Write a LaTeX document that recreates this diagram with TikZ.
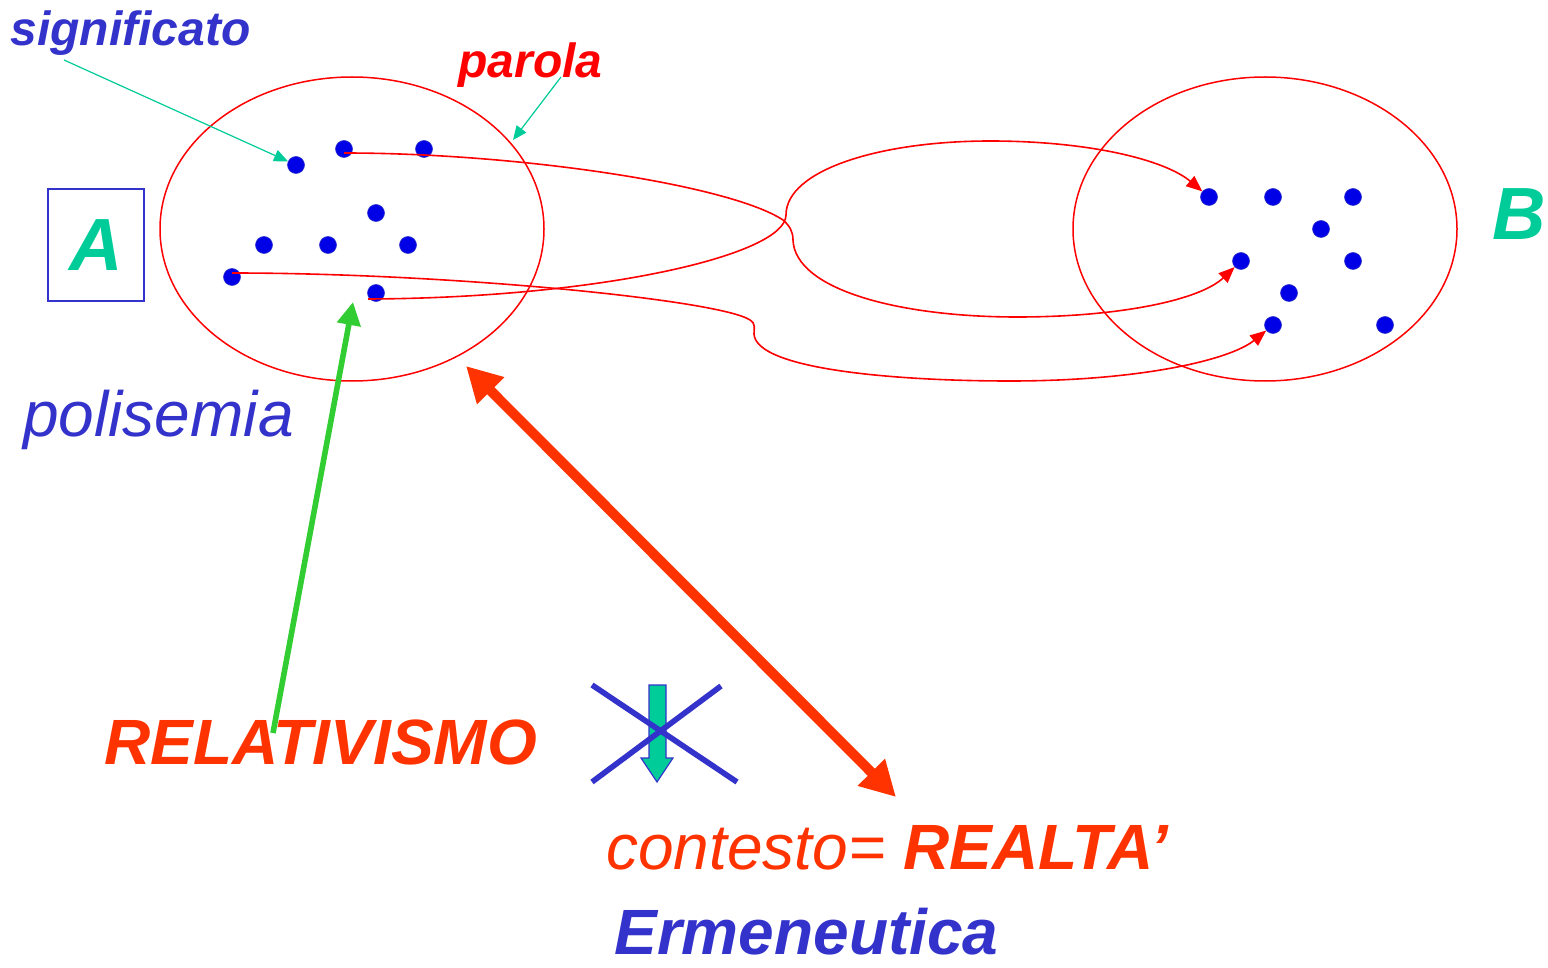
\documentclass[tikz,border=0pt]{standalone}
\usepackage{fontspec}
\setmainfont{Liberation Sans}
\usetikzlibrary{arrows.meta,shapes.geometric}
\definecolor{setred}{RGB}{255,0,0}
\definecolor{inkblue}{RGB}{51,51,204}
\definecolor{dotblue}{RGB}{0,0,230}
\definecolor{sea}{RGB}{0,204,153}
\definecolor{flame}{RGB}{255,51,0}
\definecolor{grass}{RGB}{50,205,50}

\begin{document}
\begin{tikzpicture}[x=0.5pt, y=-0.5pt,
	elem/.style={circle, fill=dotblue, draw=inkblue, line width=0.3pt, inner sep=0pt, minimum size=8.5pt},
	oval/.style={ellipse, draw=setred, line width=0.75pt, inner sep=0pt, minimum width=192pt, minimum height=152pt},
	wire/.style={setred, line width=0.8pt, -{Triangle[length=8pt,width=6.5pt]}},
	hint/.style={sea, line width=0.6pt, -{Triangle[length=7pt,width=6pt]}},
	word/.style={inner sep=0pt, anchor=base west},
	bigit/.style={font=\fontsize{32}{38}\selectfont\itshape},
	bigbf/.style={font=\fontsize{32}{38}\selectfont\bfseries\itshape},
	small/.style={font=\fontsize{24}{28}\selectfont\bfseries\itshape},
	letter/.style={font=\fontsize{37}{44}\selectfont\bfseries\itshape, text=sea},
]
	\useasboundingbox (0,0) rectangle (1548,968);

	% the two sets
	\node[oval] (setA) at (352,229) {};
	\node[oval] (setB) at (1265,229) {};
	\node[letter, draw=inkblue, line width=0.6pt, minimum width=48pt, minimum height=56pt, inner sep=0pt] (A) at (96,245) {A};
	\node[letter, inner sep=0pt] (B) at (1519,214) {B};

	\foreach \n/\x/\y in {1/296/165, 2/344/149, 3/424/149, 4/376/213, 5/264/245, 6/328/245, 7/408/245, 8/232/277, 9/376/293}
		\node[elem] (a\n) at (\x,\y) {};
	\foreach \n/\x/\y in {1/1209/197, 2/1273/197, 3/1353/197, 4/1321/229, 5/1241/261, 6/1353/261, 7/1289/293, 8/1273/325, 9/1385/325}
		\node[elem] (b\n) at (\x,\y) {};

	% words
	\node[word, small, text=inkblue] (signif) at (10,46) {significato};
	\node[word, small, text=setred] (parola) at (458,78) {parola};
	\node[word, bigit, text=inkblue] (polis) at (23,437) {polisemia};
	\node[word, bigbf, text=flame] (relat) at (104,764) {RELATIVISMO};
	\node[word, bigit, text=flame] (cont) at (606,869) {contesto= \bfseries REALTA’};
	\node[word, bigbf, text=inkblue, text depth=0pt] (erm) at (614,954) {Ermeneutica};

	\coordinate (sigtail) at (64,60);
	\coordinate (partail) at (561,77);
	\coordinate (partip) at (513,140);
	\draw[hint] (sigtail) -- (a1);
	\draw[hint] (partail) -- (partip);

	% words to meanings
	\draw[wire] ([yshift=-2pt]a2.center) .. controls (520,153) and (730,185) .. (783,220)
		.. controls (790,226) and (793,232) .. (793,240)
		.. controls (795,290) and (900,317) .. (1017,317)
		.. controls (1120,317) and (1200,300) .. (b5);
	\draw[wire] ([shift={(-4pt,-3pt)}]a9.center) .. controls (600,298) and (786,255) .. (786,215)
		.. controls (786,170) and (880,141) .. (990,141)
		.. controls (1090,141) and (1165,160) .. (b1);
	\draw[wire] ([yshift=2pt]a8.center) .. controls (450,273) and (720,300) .. (750,320)
		.. controls (756,324) and (754,328) .. (754,334)
		.. controls (756,370) and (900,381) .. (1010,381)
		.. controls (1140,381) and (1230,360) .. (b8);

	% relativismo and realta'
	\coordinate (reltail) at (273,733);
	\coordinate (reltip) at (353,302);
	\draw[grass, line width=2.8pt, -{Triangle[length=11.5pt,width=11.5pt]}] (reltail) -- (reltip);
	\coordinate (ctxtop) at (466,366);
	\coordinate (ctxbot) at (896,797);
	\draw[flame, line width=5pt, {Triangle[length=17.5pt,width=18pt]}-{Triangle[length=17.5pt,width=18pt]}] (ctxtop) -- (ctxbot);

	% crossed out arrow
	\draw[draw=inkblue, fill=sea, line width=0.6pt] (649,685) -- (666,685) -- (666,758) -- (673,758) -- (657,782) -- (641,758) -- (649,758) -- cycle;
	\draw[inkblue, line width=2.8pt] (592,685) -- (737,782);
	\draw[inkblue, line width=2.8pt] (592,782) -- (721,686);
\end{tikzpicture}
\end{document}
